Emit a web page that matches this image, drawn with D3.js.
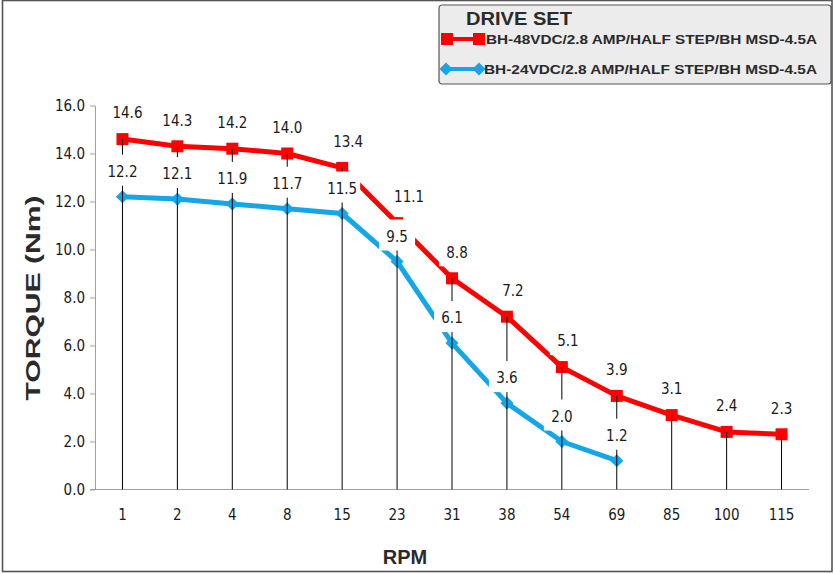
<!DOCTYPE html>
<html>
<head>
<meta charset="utf-8">
<script src="https://cdn.jsdelivr.net/npm/d3@7"></script>
<style>
  body { margin: 0; background: #fff; }
  svg { display: block; }
  .num { font-family: "Liberation Sans Narrow", "DejaVu Sans Condensed", sans-serif; font-size: 15px; fill: #1a1a1a; }
  .bold { font-family: "Liberation Sans", Arial, sans-serif; font-weight: bold; fill: #2a2a2a; }
</style>
</head>
<body>
<div id="chart"></div>
<script>
// rpm categories on the x axis
const rpm = ["1", "2", "4", "8", "15", "23", "31", "38", "54", "69", "85", "100", "115"];
// torque (Nm) per drive set
const torque48 = [14.6, 14.3, 14.2, 14.0, 13.4, 11.1, 8.8, 7.2, 5.1, 3.9, 3.1, 2.4, 2.3];
const torque24 = [12.2, 12.1, 11.9, 11.7, 11.5, 9.5, 6.1, 3.6, 2.0, 1.2];
const yTicks = [0, 2, 4, 6, 8, 10, 12, 14, 16];
const seriesNames = [
  "BH-48VDC/2.8 AMP/HALF STEP/BH MSD-4.5A",
  "BH-24VDC/2.8 AMP/HALF STEP/BH MSD-4.5A"
];
// small sideways nudges of some red value labels (px), as placed in the original
const nudge48 = { "1": 5, "15": 6, "23": 12, "31": 5, "38": 6, "54": 6 };

const W = 835, H = 574;
const red = "#ff0000", blue = "#14a6e6";

const svg = d3.select("#chart").append("svg")
    .attr("width", W).attr("height", H);

// outer frame
svg.append("rect")
    .attr("x", 2.5).attr("y", 0.5).attr("width", 829.5).attr("height", 571)
    .attr("fill", "#fff").attr("stroke", "#555").attr("stroke-width", 1.6);

const x = d3.scaleBand().domain(rpm).range([95, 809]);
const y = d3.scaleLinear().domain([0, 16]).range([489.5, 105.5]);
const cx = d => x(d) + x.bandwidth() / 2;

// y axis
const yAxis = svg.append("g")
    .attr("transform", "translate(95,0)")
    .call(d3.axisLeft(y).tickValues(yTicks).tickFormat(d3.format(".1f")).tickSize(5).tickSizeOuter(0));
yAxis.select(".domain").attr("stroke", "#a0a0a0");
yAxis.selectAll(".tick line").attr("stroke", "#a0a0a0");
yAxis.selectAll(".tick text").attr("class", "num").attr("x", -10).attr("dy", "0.35em");

// x axis (labels only, line across the plot)
const xAxis = svg.append("g")
    .attr("transform", "translate(0,489.5)")
    .call(d3.axisBottom(x).tickSize(0).tickSizeOuter(0));
xAxis.select(".domain").attr("stroke", "#a0a0a0").attr("d", "M90,0H809");
xAxis.selectAll(".tick text").attr("class", "num").attr("y", 20).attr("dy", "0.71em");

// axis titles
svg.append("text").attr("class", "bold")
    .attr("transform", "translate(40,298) rotate(-90)")
    .attr("text-anchor", "middle").attr("font-size", 21)
    .attr("textLength", 205).attr("lengthAdjust", "spacingAndGlyphs")
    .text("TORQUE (Nm)");
svg.append("text").attr("class", "bold")
    .attr("x", 405).attr("y", 564)
    .attr("text-anchor", "middle").attr("font-size", 20)
    .text("RPM");

const pts48 = torque48.map((v, i) => ({ k: rpm[i], v }));
const pts24 = torque24.map((v, i) => ({ k: rpm[i], v }));

const line = d3.line().x(d => cx(d.k)).y(d => y(d.v));

// series lines
svg.append("path").datum(pts48)
    .attr("d", line).attr("fill", "none")
    .attr("stroke", red).attr("stroke-width", 5).attr("stroke-linejoin", "round");
svg.append("path").datum(pts24)
    .attr("d", line).attr("fill", "none")
    .attr("stroke", blue).attr("stroke-width", 5).attr("stroke-linejoin", "round");

// markers
svg.append("g").selectAll("rect")
    .data(pts48).enter().append("rect")
    .attr("x", d => cx(d.k) - 6).attr("y", d => y(d.v) - 6)
    .attr("width", 12).attr("height", 12).attr("fill", red);
const diamond = d3.symbol().type(d3.symbolDiamond2).size(110);
svg.append("g").selectAll("path")
    .data(pts24).enter().append("path")
    .attr("d", diamond)
    .attr("transform", d => `translate(${cx(d.k)},${y(d.v)})`)
    .attr("fill", blue);

// drop lines from the highest point down to zero
svg.append("g").selectAll("line")
    .data(rpm).enter().append("line")
    .attr("x1", d => cx(d)).attr("x2", d => cx(d))
    .attr("y1", (d, i) => y(Math.max(torque48[i], torque24[i] || 0)))
    .attr("y2", y(0))
    .attr("stroke", "#000").attr("stroke-width", 1);

// value labels with white boxes
function labels(pts, off, nudge) {
  const g = svg.append("g").selectAll("g")
      .data(pts).enter().append("g")
      .attr("transform", d => `translate(${cx(d.k) + (nudge[d.k] || 0)},${y(d.v) - off})`);
  g.append("rect")
      .attr("x", -18).attr("y", -17).attr("width", 36).attr("height", 31)
      .attr("fill", "#fff");
  g.append("text").attr("class", "num")
      .attr("text-anchor", "middle").attr("dy", "0.35em")
      .text(d => d3.format(".1f")(d.v));
}
labels(pts48, 26, nudge48);
labels(pts24, 25, {});

// legend
const lg = svg.append("g").attr("transform", "translate(439,5)");
lg.append("rect")
    .attr("width", 392).attr("height", 79).attr("rx", 3)
    .attr("fill", "#ececec").attr("stroke", "#555").attr("stroke-width", 1.2);
lg.append("text").attr("class", "bold")
    .attr("x", 27).attr("y", 20).attr("font-size", 19)
    .attr("textLength", 106).attr("lengthAdjust", "spacingAndGlyphs")
    .text("DRIVE SET");

const ly = [34, 64];
lg.append("line").attr("x1", 8).attr("x2", 40).attr("y1", ly[0]).attr("y2", ly[0])
    .attr("stroke", red).attr("stroke-width", 4);
[8, 40].forEach(px => lg.append("rect")
    .attr("x", px - 6).attr("y", ly[0] - 6).attr("width", 12).attr("height", 12).attr("fill", red));
lg.append("line").attr("x1", 7).attr("x2", 40).attr("y1", ly[1]).attr("y2", ly[1])
    .attr("stroke", blue).attr("stroke-width", 4);
[7, 40].forEach(px => lg.append("path").attr("d", diamond)
    .attr("transform", `translate(${px},${ly[1]})`).attr("fill", blue));

const lx = [47, 45];
seriesNames.forEach((s, i) => lg.append("text").attr("class", "bold")
    .attr("x", lx[i]).attr("y", ly[i]).attr("dy", "0.36em").attr("font-size", 13.5)
    .attr("textLength", 331 - (lx[i] - 47)).attr("lengthAdjust", "spacingAndGlyphs")
    .text(s));
</script>
</body>
</html>
